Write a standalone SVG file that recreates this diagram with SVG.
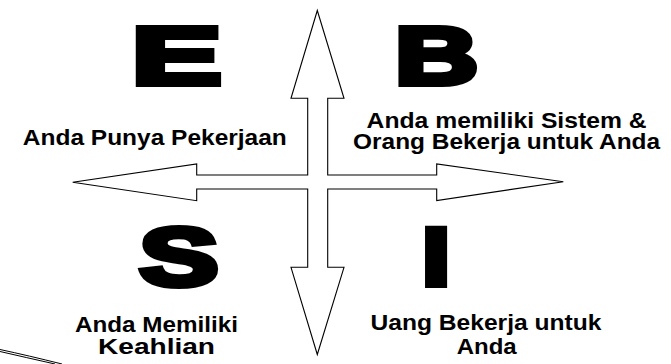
<svg xmlns="http://www.w3.org/2000/svg" width="671" height="364" viewBox="0 0 671 364">
  <style>
    .outline { fill: #ffffff; stroke: #000000; stroke-width: 1.1; stroke-linejoin: miter; }
    .big { font-family: "Liberation Sans", Arial, sans-serif; font-weight: 700; fill: #000; stroke: #000; stroke-width: 6; stroke-linejoin: miter; text-anchor: middle; }
    .label { font-family: "Liberation Sans", Arial, Helvetica, sans-serif; font-weight: 700; font-size: 22.5px; fill: #000; text-anchor: middle; }
    .swoosh { fill: none; stroke: #000; stroke-width: 1; }
  </style>
  <rect width="671" height="364" fill="#ffffff"/>

  <!-- two crossing double-headed arrows drawn as one outline -->
  <g id="connectors">
    <polygon class="outline" points="317.3,10.5 344,98.3 327.7,98.3 327.7,175 436.7,175 436.7,164 563.3,181.7 436.7,200.5 436.7,189 327.7,189 327.7,267.3 344,267.3 317.3,354.5 291,267.3 307.7,267.3 307.7,189 196.7,189 196.7,200.7 72.7,182.3 196.7,164 196.7,175 307.7,175 307.7,98.3 291,98.3"/>
  </g>

  <!-- E : employee -->
  <g id="quadrant-e">
    <text class="big" font-size="81" transform="translate(176.5,84.3) scale(1.66,1)">E</text>
    <text class="label" x="154.8" y="145" textLength="264" lengthAdjust="spacingAndGlyphs">Anda Punya Pekerjaan</text>
  </g>

  <!-- B : business owner -->
  <g id="quadrant-b">
    <text class="big" font-size="81" transform="translate(436.5,84.3) scale(1.42,1)">B</text>
    <text class="label" x="506.6" y="127.7" textLength="280" lengthAdjust="spacingAndGlyphs">Anda memiliki Sistem &amp;</text>
    <text class="label" x="506.6" y="148.5" textLength="307" lengthAdjust="spacingAndGlyphs">Orang Bekerja untuk Anda</text>
  </g>

  <!-- S : self-employed -->
  <g id="quadrant-s">
    <text class="big" font-size="81" transform="translate(179,285) scale(1.46,1)">S</text>
    <text class="label" x="156.5" y="332" textLength="163" lengthAdjust="spacingAndGlyphs">Anda Memiliki</text>
    <text class="label" x="156.5" y="353.5" textLength="117" lengthAdjust="spacingAndGlyphs">Keahlian</text>
  </g>

  <!-- I : investor -->
  <g id="quadrant-i">
    <text class="big" font-size="81" transform="translate(436,285) scale(1.25,1)">I</text>
    <text class="label" x="486" y="330" textLength="231" lengthAdjust="spacingAndGlyphs">Uang Bekerja untuk</text>
    <text class="label" x="486.7" y="353.5" textLength="60" lengthAdjust="spacingAndGlyphs">Anda</text>
  </g>

  <!-- curved stroke in the lower left corner -->
  <g id="corner-swoosh">
    <path class="swoosh" d="M0,349.5 Q28,355.5 62,364"/>
    <path class="swoosh" d="M0,351.5 Q26,357.5 55,364"/>
  </g>
</svg>
